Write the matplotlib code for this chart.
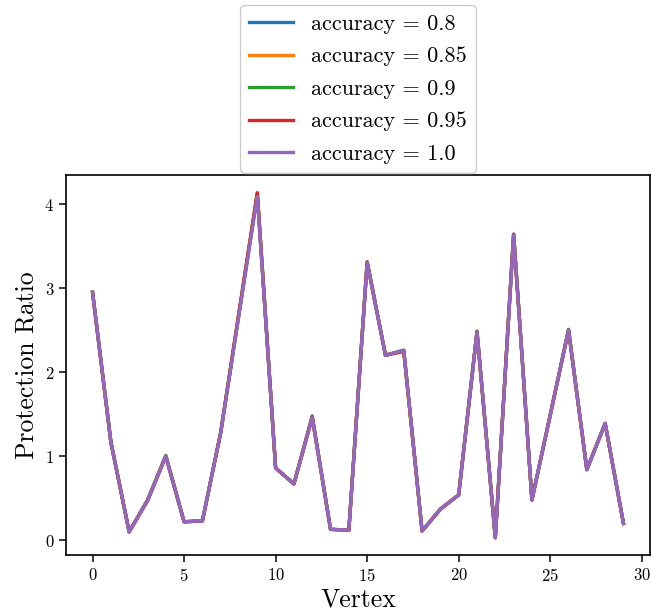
import matplotlib
matplotlib.use("Agg")
import matplotlib.pyplot as plt

plt.rcParams["font.family"] = "serif"
plt.rcParams["font.serif"] = ["cmr10"]
plt.rcParams["mathtext.fontset"] = "cm"
plt.rcParams["axes.formatter.use_mathtext"] = True

vertices = list(range(30))
accuracies = ["0.8", "0.85", "0.9", "0.95", "1.0"]

ratio_08 = [2.95, 1.17, 0.10, 0.47, 1.00, 0.22, 0.23, 1.28, 2.70, 4.12,
            0.86, 0.67, 1.46, 0.13, 0.12, 3.31, 2.20, 2.26, 0.11, 0.37,
            0.54, 2.48, 0.03, 3.64, 0.48, 1.49, 2.50, 0.84, 1.39, 0.20]
ratio_085 = [2.95, 1.17, 0.10, 0.47, 1.00, 0.22, 0.23, 1.28, 2.71, 4.14,
             0.86, 0.67, 1.46, 0.13, 0.12, 3.31, 2.21, 2.24, 0.11, 0.37,
             0.54, 2.48, 0.03, 3.64, 0.48, 1.49, 2.50, 0.84, 1.39, 0.20]
ratio_09 = [2.95, 1.17, 0.10, 0.48, 1.01, 0.22, 0.23, 1.28, 2.70, 4.12,
            0.86, 0.67, 1.48, 0.13, 0.12, 3.31, 2.20, 2.26, 0.11, 0.37,
            0.54, 2.49, 0.03, 3.64, 0.48, 1.49, 2.51, 0.84, 1.39, 0.20]
ratio_095 = [2.95, 1.17, 0.10, 0.47, 1.00, 0.22, 0.23, 1.28, 2.71, 4.13,
             0.86, 0.67, 1.47, 0.13, 0.12, 3.31, 2.20, 2.25, 0.11, 0.37,
             0.54, 2.48, 0.03, 3.64, 0.48, 1.49, 2.50, 0.84, 1.39, 0.20]
ratio_10 = [2.95, 1.17, 0.10, 0.47, 1.00, 0.22, 0.23, 1.28, 2.68, 4.09,
            0.86, 0.67, 1.46, 0.13, 0.12, 3.30, 2.20, 2.26, 0.11, 0.37,
            0.54, 2.48, 0.03, 3.63, 0.48, 1.49, 2.50, 0.84, 1.39, 0.20]

series = [ratio_08, ratio_085, ratio_09, ratio_095, ratio_10]
colors = ["#1f77b4", "#ff7f0e", "#2ca02c", "#d62728", "#9467bd"]

fig = plt.figure(figsize=(6.52, 6.16), dpi=100)
ax = fig.add_axes([66 / 652, 1 - 555 / 616, (650 - 66) / 652, (555 - 175) / 616])

for acc, vals, col in zip(accuracies, series, colors):
    ax.plot(vertices, vals, color=col, lw=2.4, label="accuracy = " + acc)

ax.set_xlabel("Vertex", fontsize=18.5, labelpad=3)
ax.set_ylabel("Protection Ratio", fontsize=18.5)
ax.tick_params(labelsize=12, width=1.1, length=5)
for sp in ax.spines.values():
    sp.set_linewidth(1.2)

ax.legend(loc="lower center", bbox_to_anchor=(0.5, 1.0), fontsize=16,
          handlelength=2.0, labelspacing=0.58, borderaxespad=0.1,
          framealpha=1.0)

fig.savefig("out.png", dpi=100)
